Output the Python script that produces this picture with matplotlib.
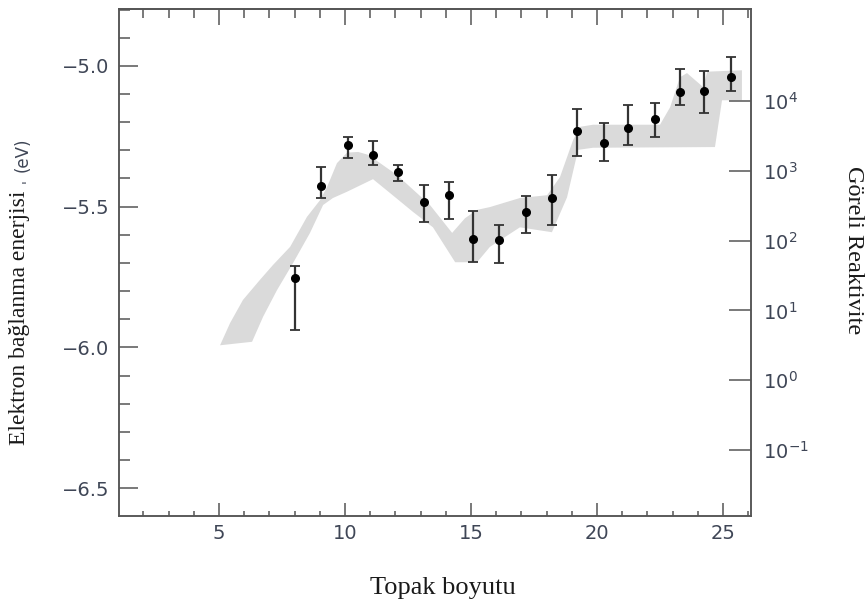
import matplotlib
matplotlib.use("Agg")
import matplotlib.pyplot as plt
import numpy as np
from matplotlib.ticker import FixedLocator, MultipleLocator, NullLocator

# ---------------- data ----------------
# cluster size (Topak boyutu) for each measured point
sizes = [8.02, 9.05, 10.10, 11.10, 12.10, 13.13, 14.13, 15.08, 16.11,
         17.18, 18.21, 19.20, 20.28, 21.23, 22.30, 23.29, 24.25, 25.32]
# electron binding energy (eV)
energy = [-5.755, -5.425, -5.280, -5.316, -5.376, -5.485, -5.460, -5.614, -5.617,
          -5.520, -5.468, -5.230, -5.273, -5.220, -5.188, -5.092, -5.089, -5.039]
# error bar top / bottom (eV)
energy_high = [-5.710, -5.358, -5.252, -5.266, -5.351, -5.422, -5.412, -5.516, -5.564,
               -5.463, -5.387, -5.152, -5.202, -5.138, -5.131, -5.011, -5.018, -4.968]
energy_low = [-5.940, -5.468, -5.326, -5.351, -5.408, -5.553, -5.543, -5.695, -5.700,
              -5.594, -5.564, -5.319, -5.337, -5.280, -5.252, -5.138, -5.167, -5.089]

# relative reactivity band (log10 of reactivity), upper and lower edges
band_upper_x = [5.04, 5.44, 5.95, 6.63, 7.14, 7.82, 8.49, 9.01, 9.29, 9.68, 10.08,
                10.52, 10.91, 11.39, 12.06, 12.70, 13.37, 14.25, 14.76, 15.24, 15.75,
                16.94, 18.02, 18.53, 19.05, 19.33, 19.84, 22.50, 22.90, 23.29, 23.57,
                24.21, 24.37, 25.75]
band_upper_log = [0.50, 0.82, 1.15, 1.44, 1.65, 1.91, 2.34, 2.58, 2.77, 3.11, 3.26,
                  3.27, 3.23, 3.11, 2.94, 2.73, 2.51, 2.11, 2.32, 2.44, 2.48,
                  2.61, 2.65, 2.91, 3.44, 3.63, 3.66, 3.66, 3.91, 4.34, 4.40,
                  4.20, 4.42, 4.44]
band_lower_x = [5.04, 6.31, 6.75, 7.30, 7.94, 8.61, 9.13, 9.52, 10.08, 11.11, 11.79,
                12.70, 13.49, 14.37, 15.24, 15.75, 16.94, 18.21, 18.81, 19.25, 19.84,
                24.68, 24.96, 25.75]
band_lower_log = [0.50, 0.55, 0.91, 1.29, 1.68, 2.11, 2.51, 2.61, 2.70, 2.88, 2.68,
                  2.41, 2.19, 1.69, 1.69, 1.91, 2.19, 2.12, 2.62, 3.30, 3.33,
                  3.34, 4.01, 4.01]

x_major_ticks = [5, 10, 15, 20, 25]
y_major_ticks = [-6.5, -6.0, -5.5, -5.0]
y_tick_labels = ["\u22126.5", "\u22126.0", "\u22125.5", "\u22125.0"]
r_tick_exps = [-1, 0, 1, 2, 3, 4]
r_tick_labels = [r"$10^{-1}$", r"$10^{0}$", r"$10^{1}$", r"$10^{2}$", r"$10^{3}$", r"$10^{4}$"]

# ---------------- styling ----------------
plt.rcParams["font.family"] = ["DejaVu Sans"]
SPINE = "#555555"
TICKLBL = "#3f4656"
TEXT = "#1a1a1a"

W, H = 866, 606
fig = plt.figure(figsize=(W / 100, H / 100), dpi=100)
ax = fig.add_axes([119 / W, 1 - 516 / H, (751 - 119) / W, (516 - 9) / H])
ax2 = ax.twinx()

# band on the log-scaled reactivity axis
ax2.set_yscale("log")
ax2.set_ylim(10 ** -1.946, 10 ** 5.318)
bx = np.r_[band_upper_x, band_lower_x[::-1]]
by = 10 ** np.r_[band_upper_log, band_lower_log[::-1]]
ax2.fill(bx, by, color="#dadada", lw=0)

# keep the data axis on top of the band
ax.set_zorder(ax2.get_zorder() + 1)
ax.patch.set_visible(False)

e = np.array(energy)
yerr = [e - np.array(energy_low), np.array(energy_high) - e]
ax.errorbar(sizes, energy, yerr=yerr, fmt="o", color="black", ms=5.5,
            ecolor="#333333", elinewidth=1.6, capsize=3.8, capthick=1.3, zorder=3)

ax.set_xlim(1.03, 26.11)
ax.set_ylim(-6.599, -4.798)

# x ticks
ax.xaxis.set_major_locator(FixedLocator(x_major_ticks))
ax.xaxis.set_minor_locator(MultipleLocator(1))
ax.tick_params(axis="x", which="major", direction="in", length=9.5, width=1.1,
               color=SPINE, labelsize=14, labelcolor=TICKLBL, pad=6, top=False)
ax.tick_params(axis="x", which="minor", direction="in", length=3.6, width=1.1,
               color=SPINE, top=False)

sec = ax.secondary_xaxis("top")
sec.xaxis.set_major_locator(FixedLocator(x_major_ticks))
sec.xaxis.set_minor_locator(MultipleLocator(1))
sec.tick_params(axis="x", which="major", direction="in", length=11.5, width=1.1,
                color=SPINE, labeltop=False)
sec.tick_params(axis="x", which="minor", direction="in", length=6.5, width=1.1,
                color=SPINE)
sec.spines["top"].set_color(SPINE)
sec.spines["top"].set_linewidth(1.1)

# left y ticks
ax.yaxis.set_major_locator(FixedLocator(y_major_ticks))
ax.set_yticklabels(y_tick_labels)
ax.yaxis.set_minor_locator(MultipleLocator(0.1))
ax.tick_params(axis="y", which="major", direction="in", length=13.7, width=1.1,
               color=SPINE, labelsize=14, labelcolor=TICKLBL, pad=7, right=False)
ax.tick_params(axis="y", which="minor", direction="in", length=8, width=1.1,
               color=SPINE, right=False)

# right y ticks
ax2.set_yticks([10.0 ** k for k in r_tick_exps])
ax2.set_yticklabels(r_tick_labels)
ax2.yaxis.set_minor_locator(NullLocator())
ax2.tick_params(axis="y", which="major", direction="in", length=16, width=1.1,
                color=SPINE, labelsize=14, labelcolor=TICKLBL, pad=8.5)

for a in (ax, ax2):
    for s in a.spines.values():
        s.set_color(SPINE)
        s.set_linewidth(1.1)

# axis titles
fig.text(20 / W, 1 - 318 / H, "Elektron bağlanma enerjisi", rotation=90,
         ha="center", va="center", fontsize=17, family="Liberation Serif", color=TEXT)
fig.text(28 / W, 1 - 181 / H, "'", rotation=90, ha="center", va="center",
         fontsize=10, color=TICKLBL)
fig.text(23 / W, 1 - 155 / H, "(eV)", rotation=90, ha="center", va="center",
         fontsize=12, color=TICKLBL)
fig.text(443 / W, 1 - 588 / H, "Topak boyutu", ha="center", va="center",
         fontsize=19, family="Liberation Serif", color=TEXT)
fig.text(853 / W, 1 - 250 / H, "Göreli Reaktivite", rotation=-90, ha="center",
         va="center", fontsize=17.5, family="Liberation Serif", color=TEXT)

fig.savefig("out.png", dpi=100)
